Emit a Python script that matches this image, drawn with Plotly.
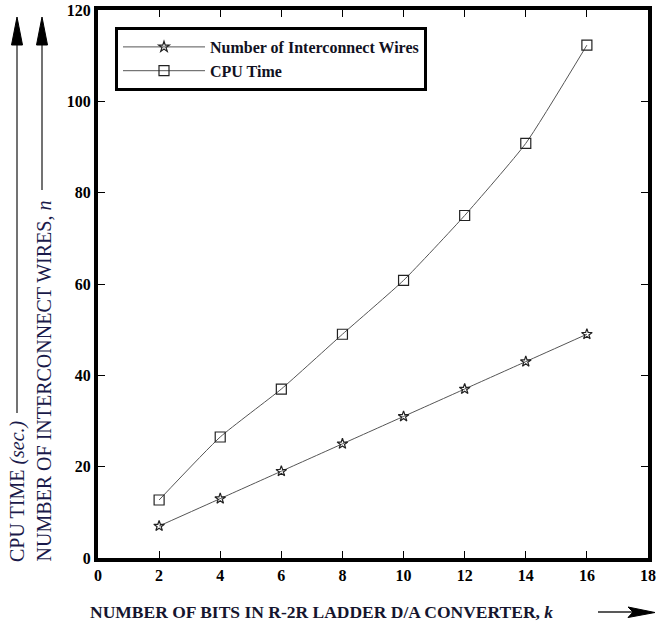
import plotly.graph_objects as go

bits = [2, 4, 6, 8, 10, 12, 14, 16]
wires = [7, 13, 19, 25, 31, 37, 43, 49]
cpu_time = [12.7, 26.5, 37.0, 49.0, 60.8, 75.0, 90.8, 112.3]
x_ticks = [0, 2, 4, 6, 8, 10, 12, 14, 16, 18]
y_ticks = [0, 20, 40, 60, 80, 100, 120]

SERIF = "Liberation Serif"
W, H = 657, 628
L, R, T, B = 98, 9, 10, 70
PW, PH = W - L - R, H - T - B

def px(x):
    return (x - L) / PW

def py(y):
    return (H - B - y) / PH

fig = go.Figure()
fig.add_trace(go.Scatter(
    x=bits, y=wires, name="Number of Interconnect Wires",
    mode="lines+markers", line=dict(color="#555555", width=1, shape="spline", smoothing=0.5),
    marker=dict(symbol="star-open", size=8, color="#222222", line=dict(width=1.2, color="#222222")),
))
fig.add_trace(go.Scatter(
    x=bits, y=cpu_time, name="CPU Time",
    mode="lines+markers", line=dict(color="#555555", width=1, shape="spline", smoothing=0.5),
    marker=dict(symbol="square-open", size=10, color="#222222", line=dict(width=1.2, color="#222222")),
))

axis_common = dict(
    showgrid=False, zeroline=False, showline=True, linecolor="black", linewidth=4,
    mirror="ticks", ticks="inside", ticklen=7, tickwidth=1, tickcolor="black",
    tickfont=dict(family=SERIF, size=16, color="black", weight="bold"),
    automargin=False,
)
fig.update_xaxes(range=[0, 18], tickvals=x_ticks, **axis_common)
fig.update_yaxes(range=[0, 120], tickvals=y_ticks, **axis_common)

shapes = []
# vertical arrows for y titles
for xl, y_tail in [(17, 413), (42, 190)]:
    shapes.append(dict(type="line", xref="paper", yref="paper",
                       x0=px(xl), x1=px(xl), y0=py(y_tail), y1=py(40),
                       line=dict(color="#444444", width=1.5)))
    shapes.append(dict(type="path", xref="paper", yref="paper",
                       path=f"M {px(xl-5.5)} {py(45)} L {px(xl)} {py(17)} L {px(xl+5.5)} {py(45)} Z",
                       fillcolor="black", line=dict(color="black", width=1)))
# horizontal arrow for x title
shapes.append(dict(type="line", xref="paper", yref="paper",
                   x0=px(598), x1=px(632), y0=py(612), y1=py(612),
                   line=dict(color="#222222", width=1.5)))
shapes.append(dict(type="path", xref="paper", yref="paper",
                   path=f"M {px(628)} {py(607)} L {px(655)} {py(612.5)} L {px(628)} {py(617.5)} L {px(633)} {py(612)} Z",
                   fillcolor="black", line=dict(color="black", width=1)))

annotations = [
    dict(text="NUMBER OF BITS IN R-2R LADDER D/A CONVERTER, <i>k</i>",
         xref="paper", yref="paper", x=px(88), y=py(612), xanchor="left", yanchor="middle",
         showarrow=False, font=dict(family=SERIF, size=17.5, color="#15152e", weight="bold")),
    dict(text="CPU TIME <i>(sec.)</i>", textangle=-90,
         xref="paper", yref="paper", x=px(17), y=py(564), xanchor="center", yanchor="bottom",
         showarrow=False, font=dict(family=SERIF, size=20, color="#1a1a4a")),
    dict(text="NUMBER OF INTERCONNECT WIRES, <i>n</i>", textangle=-90,
         xref="paper", yref="paper", x=px(43), y=py(564), xanchor="center", yanchor="bottom",
         showarrow=False, font=dict(family=SERIF, size=20, color="#1a1a4a")),
]

fig.update_layout(
    width=W, height=H, margin=dict(l=L, r=R, t=T, b=B, autoexpand=False),
    paper_bgcolor="white", plot_bgcolor="white",
    shapes=shapes, annotations=annotations,
    legend=dict(x=px(115), y=py(27), xanchor="left", yanchor="top",
                bgcolor="white", bordercolor="black", borderwidth=3,
                font=dict(family=SERIF, size=16, color="#111122", weight="bold"),
                itemwidth=82, tracegroupgap=0),
    showlegend=True,
)

fig.write_html(
    "out.html",
    config={"displayModeBar": False},
    post_script="document.body.style.margin='0';document.body.style.overflow='hidden';",
)
